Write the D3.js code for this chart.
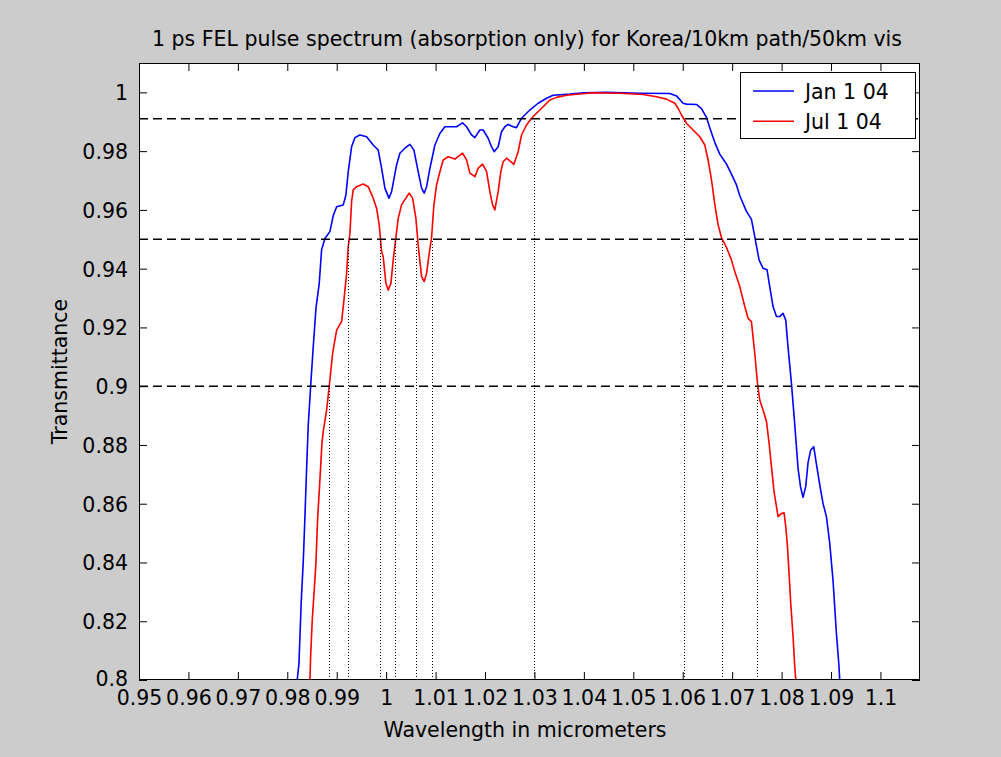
<!DOCTYPE html>
<html><head><meta charset="utf-8">
<script src="https://cdn.jsdelivr.net/npm/d3@7"></script>
<style>
html,body{margin:0;padding:0;background:#cccccc;}
svg{display:block;}
text{font-family:"DejaVu Sans",Verdana,sans-serif;fill:#000;}
</style>
</head><body>
<svg id="chart" width="1001" height="757"></svg>
<script>
// ---- data ----
const janWavelength = [0.98195,0.98201,0.98236,0.98256,0.98282,0.98323,0.98357,0.98391,0.98424,0.98472,0.98525,0.9858,0.98646,0.98694,0.98761,0.98862,0.98929,0.98998,0.99132,0.99186,0.99233,0.99301,0.99368,0.99469,0.99604,0.99738,0.99839,0.99908,0.99975,1.00056,1.0011,1.00211,1.00278,1.00379,1.0048,1.00561,1.00648,1.00717,1.0077,1.00818,1.00885,1.00986,1.01087,1.01188,1.01289,1.01425,1.01546,1.01627,1.01728,1.01795,1.01896,1.01963,1.02064,1.02132,1.02185,1.02266,1.02334,1.02401,1.02468,1.02569,1.02638,1.02739,1.02907,1.03075,1.03245,1.03378,1.03716,1.04,1.0446,1.05131,1.05738,1.05874,1.06007,1.06076,1.06278,1.06379,1.0648,1.06547,1.06648,1.06749,1.06885,1.06986,1.07087,1.07154,1.07289,1.0739,1.07457,1.07544,1.07625,1.07706,1.0776,1.07827,1.07896,1.07962,1.08029,1.08084,1.0813,1.08199,1.08266,1.08333,1.08382,1.08434,1.08488,1.08535,1.0859,1.0865,1.08705,1.08771,1.08838,1.08907,1.08974,1.0904,1.09109,1.09162,1.09176,1.0918];
const janTransmittance = [0.795,0.8,0.8057,0.8147,0.8267,0.8403,0.8556,0.8721,0.8868,0.8998,0.9134,0.9265,0.935,0.9464,0.9503,0.9526,0.958,0.9611,0.9617,0.9651,0.973,0.9815,0.9846,0.9855,0.9849,0.9821,0.9804,0.9741,0.9674,0.964,0.9662,0.9753,0.9793,0.981,0.9823,0.9804,0.973,0.9674,0.9657,0.9679,0.9741,0.9821,0.986,0.9883,0.9883,0.9883,0.9896,0.9883,0.9855,0.9846,0.9872,0.9872,0.9844,0.9815,0.9798,0.9815,0.9866,0.9883,0.9891,0.9883,0.988,0.9912,0.994,0.9963,0.998,0.999,0.9994,0.9999,1.0,0.9997,0.9996,0.9988,0.9963,0.996,0.9959,0.9945,0.9915,0.988,0.983,0.979,0.9756,0.9722,0.9685,0.9648,0.9595,0.9568,0.9509,0.943,0.9401,0.9396,0.9339,0.9271,0.9237,0.9237,0.9248,0.9225,0.9134,0.901,0.887,0.872,0.8658,0.8622,0.8658,0.874,0.8783,0.8794,0.8735,0.8665,0.8601,0.8556,0.8465,0.834,0.8159,0.8045,0.8,0.795];

const julWavelength = [0.98455,0.98458,0.98472,0.98505,0.98545,0.98579,0.98614,0.9866,0.98701,0.98727,0.98796,0.98862,0.98917,0.98998,0.99099,0.99146,0.992,0.99233,0.99267,0.99301,0.99334,0.99402,0.99536,0.99637,0.99738,0.99807,0.9986,0.99908,0.9994,0.99995,1.00041,1.00096,1.00143,1.00197,1.00244,1.00312,1.00399,1.00466,1.00535,1.00602,1.00648,1.00717,1.0077,1.00818,1.00871,1.00919,1.00966,1.0102,1.01087,1.01154,1.01255,1.0139,1.01546,1.01627,1.01694,1.01795,1.01862,1.01951,1.02032,1.02098,1.02153,1.02199,1.02266,1.0232,1.02367,1.02436,1.02503,1.02584,1.0267,1.02739,1.0284,1.02941,1.03042,1.0311,1.03176,1.03311,1.03447,1.03649,1.04187,1.04727,1.05198,1.05469,1.05671,1.05839,1.05906,1.05975,1.06076,1.06209,1.06345,1.06446,1.06513,1.06582,1.06648,1.06715,1.06783,1.06885,1.06986,1.07053,1.07154,1.07255,1.07322,1.0739,1.07457,1.07512,1.07558,1.07625,1.07694,1.07747,1.07795,1.07848,1.07896,1.0793,1.07997,1.0805,1.08084,1.08119,1.08151,1.08185,1.08232,1.08266,1.08287,1.0829];
const julTransmittance = [0.795,0.8,0.8079,0.8204,0.8306,0.8397,0.855,0.8681,0.8806,0.8845,0.8919,0.9021,0.9112,0.9191,0.922,0.9293,0.9384,0.9475,0.952,0.9628,0.9668,0.9679,0.9688,0.9679,0.964,0.9605,0.9549,0.9458,0.9441,0.935,0.9327,0.935,0.943,0.9506,0.9571,0.9617,0.964,0.9657,0.964,0.9571,0.948,0.9373,0.9356,0.9384,0.9452,0.9506,0.9617,0.9685,0.973,0.977,0.9781,0.9773,0.9793,0.977,0.9725,0.9713,0.9742,0.9756,0.973,0.9662,0.9617,0.96,0.9662,0.973,0.9764,0.9776,0.9767,0.9755,0.9798,0.9855,0.9889,0.9912,0.9929,0.994,0.9951,0.9974,0.9983,0.999,0.9999,0.9997,0.9993,0.9985,0.9977,0.9963,0.9946,0.9923,0.9895,0.9872,0.9849,0.9821,0.977,0.9702,0.962,0.955,0.9506,0.9472,0.943,0.939,0.9339,0.9271,0.9231,0.922,0.9112,0.901,0.8953,0.8919,0.888,0.8806,0.8726,0.864,0.859,0.8556,0.8567,0.8569,0.8522,0.8454,0.8363,0.8261,0.8147,0.8045,0.8,0.795];

const seriesNames = ["Jan 1 04", "Jul 1 04"];
const seriesColors = ["#0000ff", "#ff0000"];

// horizontal dashed threshold levels
const thresholdLevels = [0.991, 0.95, 0.9];
// vertical dotted markers: wavelength and the level they rise to
const markerWavelength = [0.98842, 0.99224, 0.99874, 1.00183, 1.0060, 1.00925, 1.0300, 1.06033, 1.06786, 1.0751];
const markerLevel      = [0.9,     0.95,    0.95,    0.95,    0.95,   0.95,    0.991,  0.991,   0.95,    0.9];

const xTickValues = [0.95,0.96,0.97,0.98,0.99,1.0,1.01,1.02,1.03,1.04,1.05,1.06,1.07,1.08,1.09,1.1];
const xTickLabels = ["0.95","0.96","0.97","0.98","0.99","1","1.01","1.02","1.03","1.04","1.05","1.06","1.07","1.08","1.09","1.1"];
const yTickValues = [0.8,0.82,0.84,0.86,0.88,0.9,0.92,0.94,0.96,0.98,1.0];
const yTickLabels = ["0.8","0.82","0.84","0.86","0.88","0.9","0.92","0.94","0.96","0.98","1"];

const titleText = "1 ps FEL pulse spectrum (absorption only) for Korea/10km path/50km vis";
const xLabelText = "Wavelength in micrometers";
const yLabelText = "Transmittance";

// ---- layout ----
const L = 139, R = 920, T = 63, B = 680;
const FS = 20.5;
const FONT = "DejaVu Sans, Verdana, sans-serif";
const svg = d3.select("#chart");
const x = d3.scaleLinear().domain([0.95, 1.108]).range([L, R]);
const y = d3.scaleLinear().domain([0.8, 1.01]).range([B, T]);

svg.append("rect").attr("x",0).attr("y",0).attr("width",1001).attr("height",757).attr("fill","#cccccc");
svg.append("rect").attr("x",L).attr("y",T).attr("width",R-L).attr("height",B-T).attr("fill","#ffffff");

svg.append("defs").append("clipPath").attr("id","clip")
  .append("rect").attr("x",L).attr("y",T).attr("width",R-L).attr("height",B-T);

const plot = svg.append("g").attr("clip-path","url(#clip)");

const line = d3.line().x(d=>x(d[0])).y(d=>y(d[1]));
const series = [
  d3.zip(janWavelength, janTransmittance),
  d3.zip(julWavelength, julTransmittance)
];
series.forEach((s,i)=>{
  plot.append("path").datum(s).attr("d",line)
    .attr("fill","none").attr("stroke",seriesColors[i]).attr("stroke-width",1.6)
    .attr("stroke-linejoin","round");
});

// dashed threshold lines
plot.selectAll("line.thr").data(thresholdLevels).enter().append("line")
  .attr("x1",L).attr("x2",R).attr("y1",d=>y(d)).attr("y2",d=>y(d))
  .attr("stroke","#000").attr("stroke-width",1.5).attr("stroke-dasharray","9,5");

// dotted vertical markers
plot.selectAll("line.mk").data(d3.zip(markerWavelength, markerLevel)).enter().append("line")
  .attr("x1",d=>Math.round(x(d[0]))+0.5).attr("x2",d=>Math.round(x(d[0]))+0.5)
  .attr("y1",B).attr("y2",d=>y(d[1]))
  .attr("stroke","#000").attr("stroke-width",1).attr("stroke-dasharray","1,2");

// axes
const fmtX = (d,i)=>xTickLabels[i];
const fmtY = (d,i)=>yTickLabels[i];
const gx = svg.append("g").attr("transform",`translate(0,${B})`)
  .call(d3.axisBottom(x).tickValues(xTickValues).tickFormat(fmtX).tickSizeInner(-8).tickSizeOuter(0).tickPadding(8));
const gxt = svg.append("g").attr("transform",`translate(0,${T})`)
  .call(d3.axisTop(x).tickValues(xTickValues).tickFormat("").tickSizeInner(-8).tickSizeOuter(0));
const gy = svg.append("g").attr("transform",`translate(${L},0)`)
  .call(d3.axisLeft(y).tickValues(yTickValues).tickFormat(fmtY).tickSizeInner(-8).tickSizeOuter(0).tickPadding(11));
const gyr = svg.append("g").attr("transform",`translate(${R},0)`)
  .call(d3.axisRight(y).tickValues(yTickValues).tickFormat("").tickSizeInner(-8).tickSizeOuter(0));
[gx,gxt,gy,gyr].forEach(g=>{
  g.select(".domain").remove();
  g.selectAll(".tick line").attr("stroke","#000").attr("stroke-width",1);
  g.selectAll("text").attr("font-family",FONT).attr("font-size",FS).attr("fill","#000");
});
gx.selectAll(".tick text").attr("dy",null).attr("y",null).attr("transform","translate(0,25)");
gy.selectAll(".tick text").attr("dy",null).attr("transform",(d,i)=> i===0 ? "translate(0,5)" : "translate(0,7.5)");

// box
svg.append("rect").attr("x",L+0.5).attr("y",T+0.5).attr("width",R-L-1).attr("height",B-T-1)
  .attr("fill","none").attr("stroke","#000").attr("stroke-width",1);

// titles
svg.append("text").attr("x",527).attr("y",46).attr("text-anchor","middle").attr("font-size",FS).text(titleText);
svg.append("text").attr("x",525).attr("y",737).attr("text-anchor","middle").attr("font-size",FS).text(xLabelText);
svg.append("text").attr("transform",`translate(67,${(T+B)/2}) rotate(-90)`).attr("text-anchor","middle").attr("font-size",FS).text(yLabelText);

// legend
const lg = svg.append("g");
lg.append("rect").attr("x",740.5).attr("y",72.5).attr("width",175).attr("height",66)
  .attr("fill","#fff").attr("stroke","#000").attr("stroke-width",1);
seriesNames.forEach((n,i)=>{
  const yy = 91 + i*30.3;
  lg.append("line").attr("x1",753).attr("x2",794).attr("y1",yy).attr("y2",yy)
    .attr("stroke",seriesColors[i]).attr("stroke-width",1.6);
  lg.append("text").attr("x",805).attr("y",yy+7.5).attr("font-size",FS).text(n);
});
</script>
</body></html>
